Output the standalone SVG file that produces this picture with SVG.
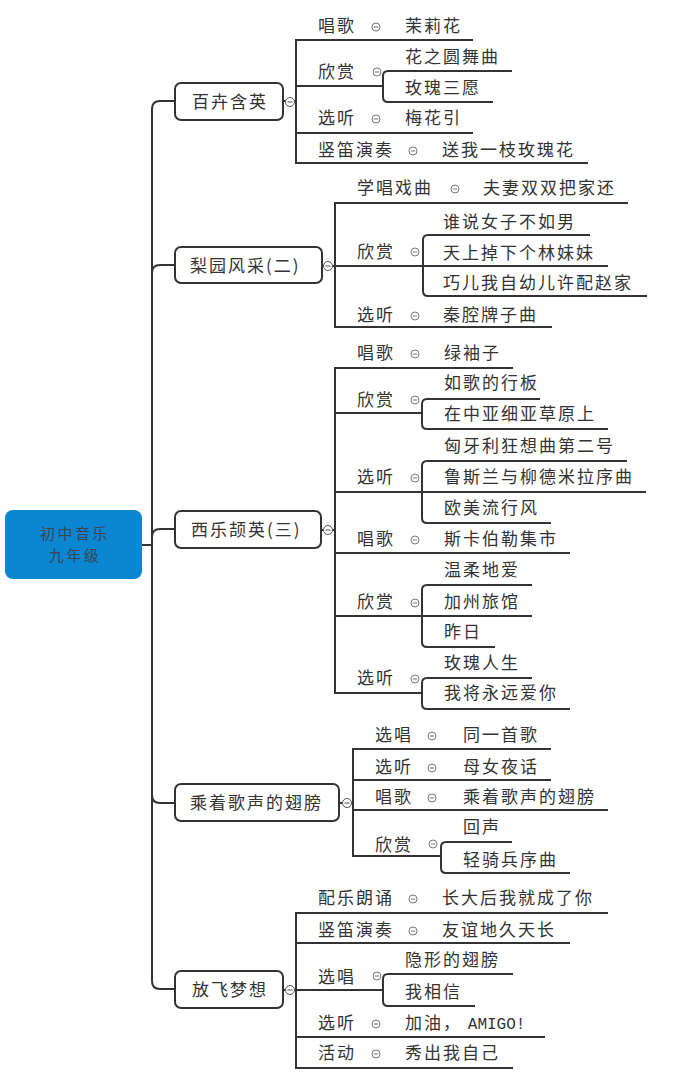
<svg xmlns="http://www.w3.org/2000/svg" xmlns:xlink="http://www.w3.org/1999/xlink" width="691" height="1087" viewBox="0 0 691 1087">
<style>
.t{font-family:"Noto Sans CJK SC","Noto Sans",sans-serif;font-size:17px;fill:#333;letter-spacing:2px}
.r{font-family:"Noto Sans CJK SC","Noto Sans",sans-serif;font-size:15px;fill:#3b4456;letter-spacing:2.5px}
.m{font-family:"Liberation Mono",monospace;font-size:16px;letter-spacing:0}
.ln{stroke:#333;stroke-width:2;fill:none}
.box{fill:#fff;stroke:#333;stroke-width:2}
.nc{fill:#fff;stroke:#555;stroke-width:1}
.sc{fill:#fff;stroke:#777;stroke-width:1}
</style>
<defs>
<g id="tg"><circle class="sc" r="4"/><line x1="-2.2" x2="2.2" y1="0" y2="0" stroke="#777" stroke-width="1"/></g>
<g id="ntg"><circle class="nc" r="4.5"/><line x1="-2.5" x2="2.5" y1="0" y2="0" stroke="#555" stroke-width="1"/></g>
</defs>
<rect width="691" height="1087" fill="#fff"/>

<g id="connectors">
<path class="ln" d="M142,545 H152"/>
<path class="ln" d="M152,545 V109 Q152,101 160,101 H175"/>
<path class="ln" d="M152,545 V273 Q152,265 160,265 H175"/>
<path class="ln" d="M152,545 V537 Q152,529 160,529 H175"/>
<path class="ln" d="M152,545 V795 Q152,803 160,803 H175"/>
<path class="ln" d="M152,545 V981 Q152,989 160,989 H175"/>

<path class="ln" d="M283,101 H296"/>
<path class="ln" d="M473,40 H296 V163 H588"/>
<path class="ln" d="M296,86 H383"/>
<path class="ln" d="M512,71 H388 Q383,71 383,76 V97 Q383,102 388,102 H493"/>
<path class="ln" d="M296,133 H473"/>

<path class="ln" d="M322,266 H335"/>
<path class="ln" d="M628,203 H335 V327 H552"/>
<path class="ln" d="M335,266 H608"/>
<path class="ln" d="M590,235 H428 Q423,235 423,240 V291 Q423,296 428,296 H647"/>

<path class="ln" d="M321,530 H335"/>
<path class="ln" d="M513,368 H335 V693 H422"/>
<path class="ln" d="M335,413 H422"/>
<path class="ln" d="M540,399 H427 Q422,399 422,404 V424 Q422,429 427,429 H608"/>
<path class="ln" d="M335,492 H646"/>
<path class="ln" d="M627,461 H427 Q422,461 422,466 V518 Q422,523 427,523 H551"/>
<path class="ln" d="M335,553 H570"/>
<path class="ln" d="M335,616 H532"/>
<path class="ln" d="M532,585 H427 Q422,585 422,590 V642 Q422,647 427,647 H495"/>
<path class="ln" d="M532,678 H427 Q422,678 422,683 V704 Q422,709 427,709 H570"/>

<path class="ln" d="M339,803 H353"/>
<path class="ln" d="M551,749 H353 V856 H441"/>
<path class="ln" d="M353,780 H551"/>
<path class="ln" d="M353,810 H608"/>
<path class="ln" d="M512,842 H446 Q441,842 441,847 V868 Q441,873 446,873 H570"/>

<path class="ln" d="M283,990 H296"/>
<path class="ln" d="M608,913 H296 V1068 H513"/>
<path class="ln" d="M296,943 H570"/>
<path class="ln" d="M296,990 H383"/>
<path class="ln" d="M513,974 H388 Q383,974 383,979 V1001 Q383,1006 388,1006 H475"/>
<path class="ln" d="M296,1037 H545"/>
</g>

<g id="node-root">
<rect x="5" y="510" width="137" height="69" rx="8" fill="#0b86d1"/>
<text class="r" x="75" y="539" text-anchor="middle">初中音乐</text>
<text class="r" x="75" y="561" text-anchor="middle">九年级</text>
</g>

<g id="node-b1">
<rect class="box" x="175" y="83" width="108" height="37" rx="6"/>
<text class="t" x="192" y="108">百卉含英</text>
<use href="#ntg" x="290" y="102"/>
</g>
<g id="n1-1"><text class="t" x="318" y="32">唱歌</text><use href="#tg" x="376" y="27"/></g>
<g id="n1-1-1"><text class="t" x="405" y="32">茉莉花</text></g>
<g id="n1-2"><text class="t" x="318" y="78">欣赏</text><use href="#tg" x="377" y="72"/></g>
<g id="n1-2-1"><text class="t" x="405" y="63">花之圆舞曲</text></g>
<g id="n1-2-2"><text class="t" x="405" y="94">玫瑰三愿</text></g>
<g id="n1-3"><text class="t" x="318" y="124">选听</text><use href="#tg" x="376" y="119"/></g>
<g id="n1-3-1"><text class="t" x="405" y="124">梅花引</text></g>
<g id="n1-4"><text class="t" x="318" y="156">竖笛演奏</text><use href="#tg" x="413" y="151"/></g>
<g id="n1-4-1"><text class="t" x="442" y="156">送我一枝玫瑰花</text></g>

<g id="node-b2">
<rect class="box" x="175" y="247" width="147" height="36" rx="6"/>
<text class="t" x="190" y="272">梨园风采(二)</text>
<use href="#ntg" x="328" y="266"/>
</g>
<g id="n2-1"><text class="t" x="357" y="194">学唱戏曲</text><use href="#tg" x="455" y="189"/></g>
<g id="n2-1-1"><text class="t" x="483" y="194">夫妻双双把家还</text></g>
<g id="n2-2"><text class="t" x="357" y="258">欣赏</text><use href="#tg" x="415" y="252"/></g>
<g id="n2-2-1"><text class="t" x="443" y="228">谁说女子不如男</text></g>
<g id="n2-2-2"><text class="t" x="443" y="259">天上掉下个林妹妹</text></g>
<g id="n2-2-3"><text class="t" x="443" y="289">巧儿我自幼儿许配赵家</text></g>
<g id="n2-3"><text class="t" x="357" y="321">选听</text><use href="#tg" x="415" y="316"/></g>
<g id="n2-3-1"><text class="t" x="443" y="321">秦腔牌子曲</text></g>

<g id="node-b3">
<rect class="box" x="175" y="511" width="146" height="37" rx="6"/>
<text class="t" x="191" y="536">西乐颉英(三)</text>
<use href="#ntg" x="328" y="530"/>
</g>
<g id="n3-1"><text class="t" x="357" y="359">唱歌</text><use href="#tg" x="415" y="354"/></g>
<g id="n3-1-1"><text class="t" x="444" y="359">绿袖子</text></g>
<g id="n3-2"><text class="t" x="357" y="406">欣赏</text><use href="#tg" x="415" y="400"/></g>
<g id="n3-2-1"><text class="t" x="444" y="389">如歌的行板</text></g>
<g id="n3-2-2"><text class="t" x="444" y="420">在中亚细亚草原上</text></g>
<g id="n3-3"><text class="t" x="357" y="483">选听</text><use href="#tg" x="415" y="478"/></g>
<g id="n3-3-1"><text class="t" x="444" y="452">匈牙利狂想曲第二号</text></g>
<g id="n3-3-2"><text class="t" x="444" y="483">鲁斯兰与柳德米拉序曲</text></g>
<g id="n3-3-3"><text class="t" x="444" y="514">欧美流行风</text></g>
<g id="n3-4"><text class="t" x="357" y="545">唱歌</text><use href="#tg" x="415" y="540"/></g>
<g id="n3-4-1"><text class="t" x="444" y="545">斯卡伯勒集市</text></g>
<g id="n3-5"><text class="t" x="357" y="608">欣赏</text><use href="#tg" x="415" y="603"/></g>
<g id="n3-5-1"><text class="t" x="444" y="576">温柔地爱</text></g>
<g id="n3-5-2"><text class="t" x="444" y="608">加州旅馆</text></g>
<g id="n3-5-3"><text class="t" x="444" y="638">昨日</text></g>
<g id="n3-6"><text class="t" x="357" y="684">选听</text><use href="#tg" x="415" y="679"/></g>
<g id="n3-6-1"><text class="t" x="444" y="669">玫瑰人生</text></g>
<g id="n3-6-2"><text class="t" x="444" y="699">我将永远爱你</text></g>

<g id="node-b4">
<rect class="box" x="175" y="784" width="164" height="37" rx="6"/>
<text class="t" x="190" y="809">乘着歌声的翅膀</text>
<use href="#ntg" x="347" y="803"/>
</g>
<g id="n4-1"><text class="t" x="375" y="741">选唱</text><use href="#tg" x="432" y="736"/></g>
<g id="n4-1-1"><text class="t" x="463" y="741">同一首歌</text></g>
<g id="n4-2"><text class="t" x="375" y="773">选听</text><use href="#tg" x="432" y="768"/></g>
<g id="n4-2-1"><text class="t" x="463" y="773">母女夜话</text></g>
<g id="n4-3"><text class="t" x="375" y="803">唱歌</text><use href="#tg" x="432" y="798"/></g>
<g id="n4-3-1"><text class="t" x="463" y="803">乘着歌声的翅膀</text></g>
<g id="n4-4"><text class="t" x="375" y="851">欣赏</text><use href="#tg" x="433" y="844"/></g>
<g id="n4-4-1"><text class="t" x="463" y="833">回声</text></g>
<g id="n4-4-2"><text class="t" x="463" y="866">轻骑兵序曲</text></g>

<g id="node-b5">
<rect class="box" x="175" y="971" width="108" height="37" rx="6"/>
<text class="t" x="192" y="996">放飞梦想</text>
<use href="#ntg" x="290" y="990"/>
</g>
<g id="n5-1"><text class="t" x="318" y="904">配乐朗诵</text><use href="#tg" x="413" y="899"/></g>
<g id="n5-1-1"><text class="t" x="442" y="904">长大后我就成了你</text></g>
<g id="n5-2"><text class="t" x="318" y="936">竖笛演奏</text><use href="#tg" x="413" y="931"/></g>
<g id="n5-2-1"><text class="t" x="442" y="936">友谊地久天长</text></g>
<g id="n5-3"><text class="t" x="318" y="983">选唱</text><use href="#tg" x="377" y="976"/></g>
<g id="n5-3-1"><text class="t" x="405" y="966">隐形的翅膀</text></g>
<g id="n5-3-2"><text class="t" x="405" y="998">我相信</text></g>
<g id="n5-4"><text class="t" x="318" y="1029">选听</text><use href="#tg" x="376" y="1024"/></g>
<g id="n5-4-1"><text class="t" x="405" y="1029">加油， <tspan class="m">AMIGO!</tspan></text></g>
<g id="n5-5"><text class="t" x="318" y="1059">活动</text><use href="#tg" x="376" y="1054"/></g>
<g id="n5-5-1"><text class="t" x="405" y="1059">秀出我自己</text></g>
</svg>
